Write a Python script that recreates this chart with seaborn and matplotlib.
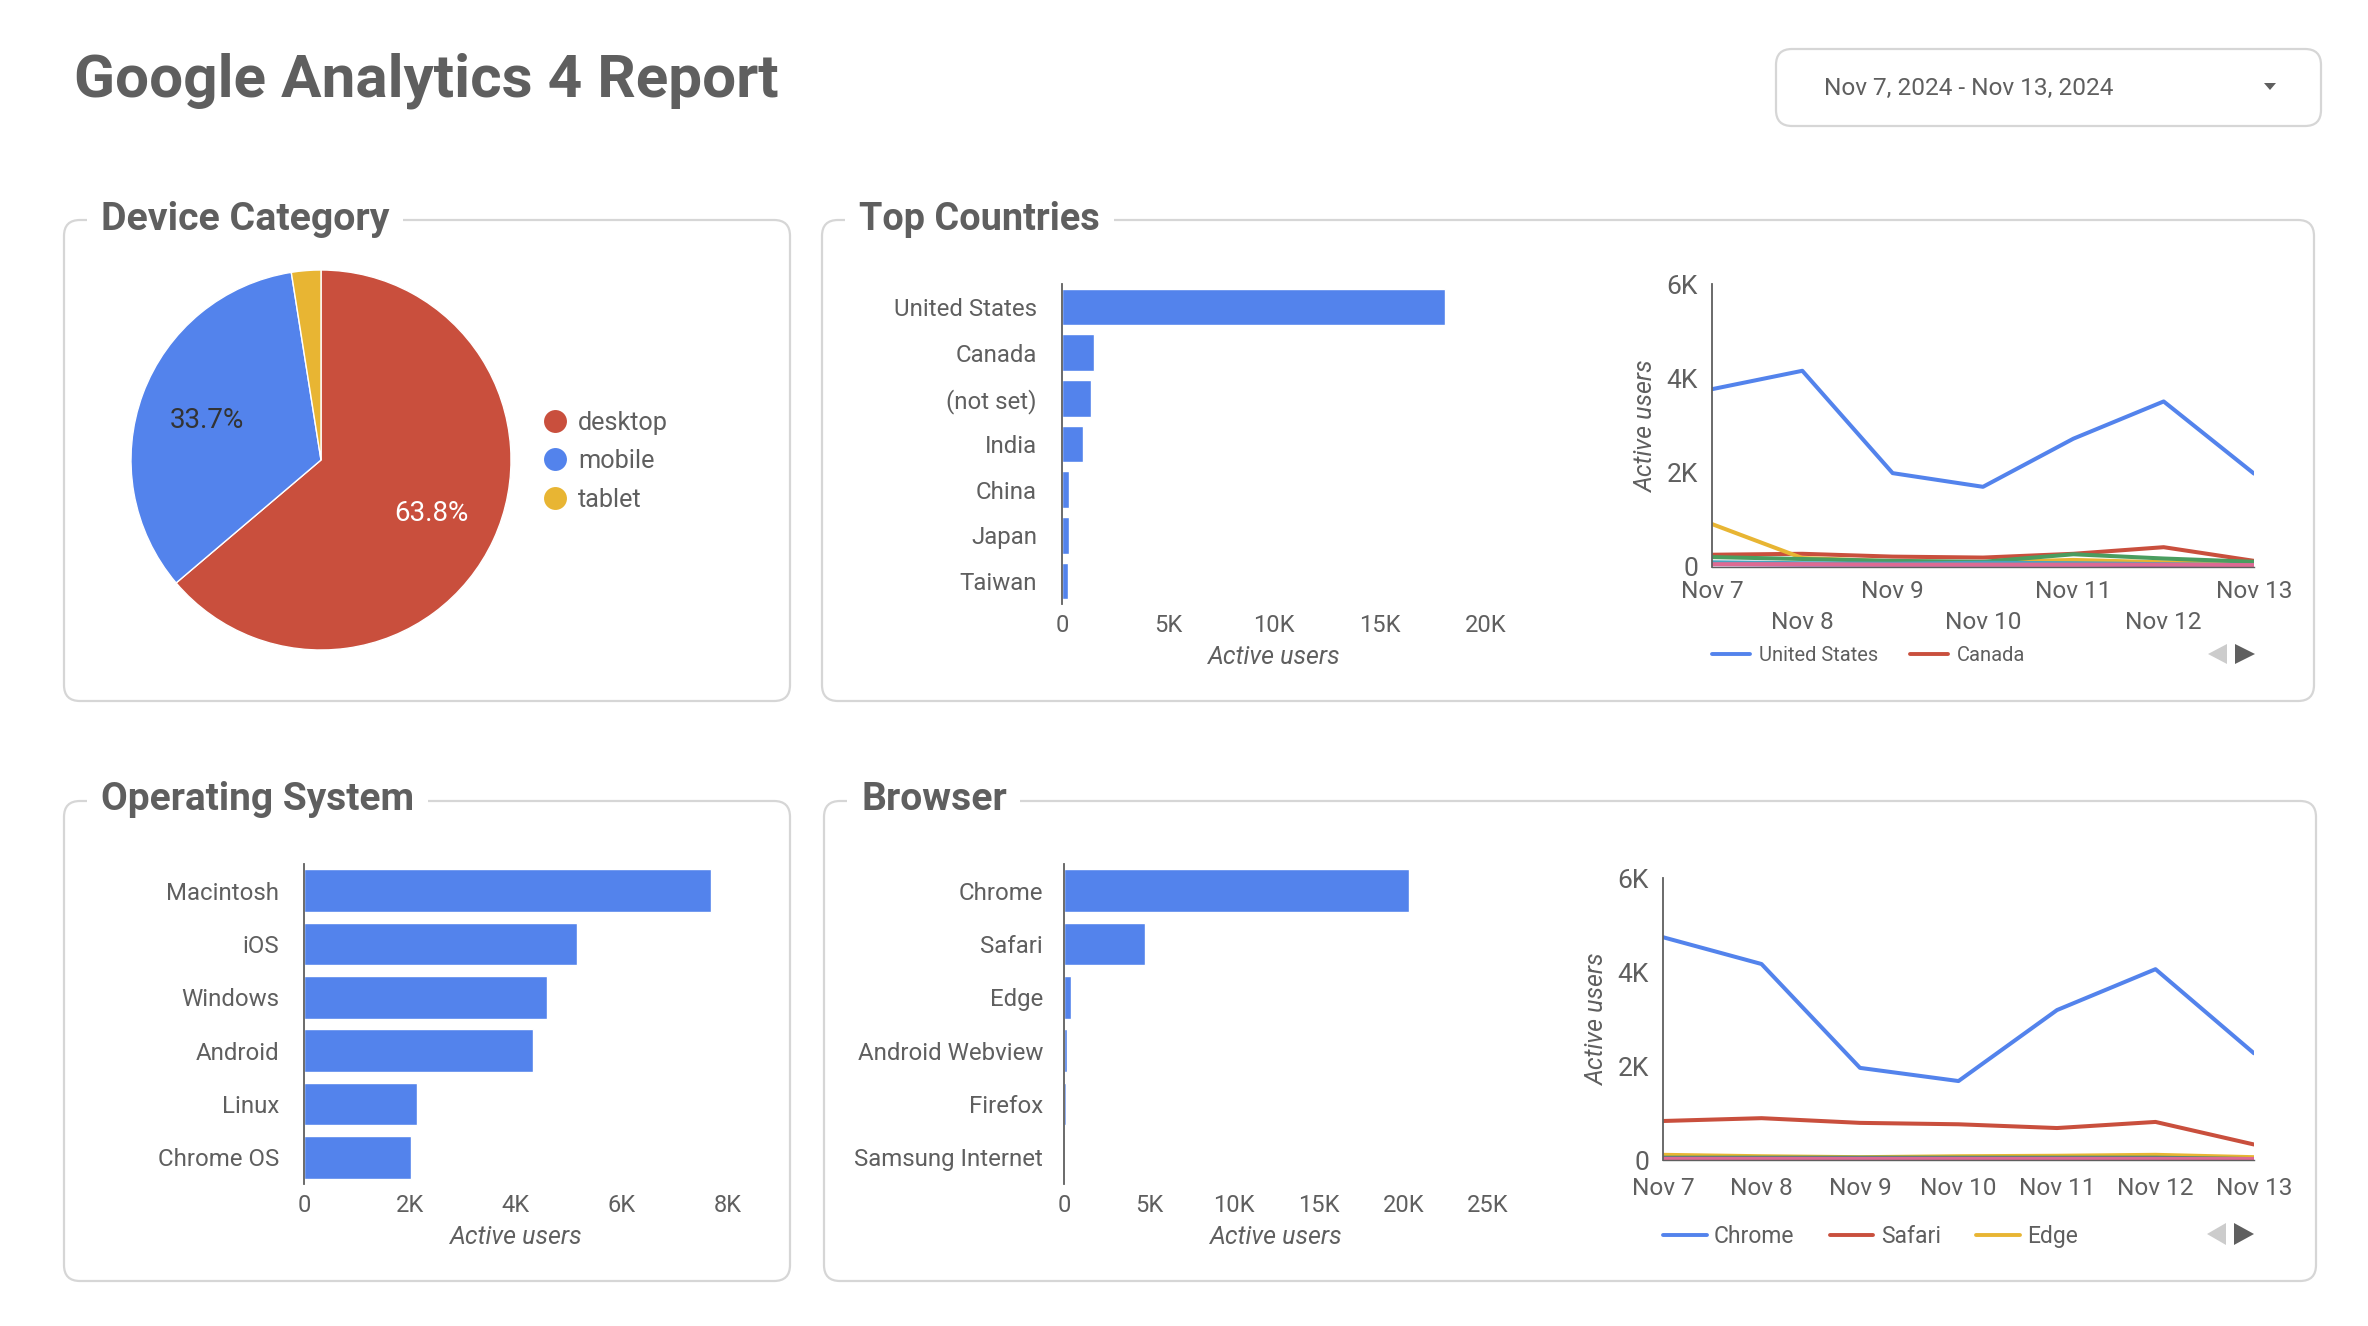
import matplotlib
matplotlib.use("Agg")
import matplotlib.pyplot as plt
from matplotlib.lines import Line2D
from matplotlib.patches import FancyBboxPatch, Polygon
import pandas as pd
import seaborn as sns

W, H = 2368, 1326

# === Data ===
device_labels = ["desktop", "mobile", "tablet"]
device_share = [63.8, 33.7, 2.5]

days = ["Nov 7", "Nov 8", "Nov 9", "Nov 10", "Nov 11", "Nov 12", "Nov 13"]

countries = ["United States", "Canada", "(not set)", "India", "China", "Japan", "Taiwan"]
country_users = [18080, 1500, 1350, 1000, 350, 330, 280]
country_daily = {
    "United States": [3770, 4160, 1990, 1700, 2720, 3510, 1980],
    "Canada": [260, 280, 220, 200, 280, 420, 130],
    "(not set)": [910, 190, 120, 100, 150, 100, 60],
    "India": [210, 170, 130, 110, 270, 180, 110],
    "China": [60, 50, 50, 50, 50, 40, 30],
    "Japan": [100, 80, 70, 90, 80, 60, 40],
    "Taiwan": [60, 60, 50, 50, 50, 50, 40],
}

systems = ["Macintosh", "iOS", "Windows", "Android", "Linux", "Chrome OS"]
system_users = [7680, 5150, 4580, 4320, 2130, 2020]

browsers = ["Chrome", "Safari", "Edge", "Android Webview", "Firefox", "Samsung Internet"]
browser_users = [20350, 4770, 400, 180, 120, 50]
browser_daily = {
    "Chrome": [4740, 4170, 1960, 1680, 3190, 4060, 2270],
    "Safari": [830, 890, 790, 760, 680, 810, 330],
    "Edge": [110, 80, 60, 80, 90, 110, 60],
    "Android Webview": [50, 50, 50, 50, 50, 50, 20],
    "Firefox": [30, 30, 30, 30, 30, 30, 20],
    "Samsung Internet": [20, 20, 20, 20, 20, 20, 20],
}

BLUE = "#5383ec"
RED = "#c94f3d"
YELLOW = "#e8b533"
GREEN = "#4a9d5f"
PURPLE = "#8e4db5"
TEAL = "#46a5c0"
PINK = "#dd6a93"
country_colors = [BLUE, RED, YELLOW, GREEN, PURPLE, TEAL, PINK]
browser_colors = [BLUE, RED, YELLOW, GREEN, PURPLE, PINK]
TEXT = "#5f5f5f"
BORDER = "#d6d6d6"

sns.set_theme(style="white")
plt.rcParams["font.family"] = ["Roboto", "DejaVu Sans"]
plt.rcParams["text.color"] = TEXT
plt.rcParams["axes.labelcolor"] = TEXT
plt.rcParams["xtick.color"] = TEXT
plt.rcParams["ytick.color"] = TEXT

fig = plt.figure(figsize=(W / 100, H / 100), dpi=100, facecolor="white")


def px_axes(x0, y0, x1, y1):
    # pixel box (top-left origin) to a figure axes
    return fig.add_axes([x0 / W, 1 - y1 / H, (x1 - x0) / W, (y1 - y0) / H], facecolor="none")


def k_label(v, pos=None):
    return "0" if v == 0 else f"{int(v / 1000)}K"


def bar_panel(x0, y0, x1, y1, cats, vals, xmax, step, y_pad=18):
    ax = px_axes(x0, y0, x1, y1)
    df = pd.DataFrame({"name": cats, "users": vals})
    sns.barplot(data=df, y="name", x="users", color=BLUE, saturation=1, width=0.8, ax=ax)
    ax.set_xlim(0, xmax)
    ax.set_ylim(len(cats) - 0.5, -0.5)
    ax.set_xticks(range(0, xmax + 1, step))
    ax.xaxis.set_major_formatter(k_label)
    ax.tick_params(axis="x", length=0, pad=7, labelsize=17)
    ax.tick_params(axis="y", length=0, pad=y_pad, labelsize=17.3)
    ax.set_ylabel("")
    ax.set_xlabel("Active users", style="italic", fontsize=18, labelpad=6)
    sns.despine(ax=ax, bottom=True)
    ax.spines["left"].set_color(TEXT)
    ax.spines["left"].set_linewidth(1.3)
    return ax


def line_panel(x0, y0, x1, y1, daily, colors, tick_labels, tick_pad, legend_names, legend_anchor, legend_size,
               text_pad, col_space):
    ax = px_axes(x0, y0, x1, y1)
    rows = [(name, d, v) for name, series in daily.items() for d, v in zip(days, series)]
    df = pd.DataFrame(rows, columns=["series", "day", "users"])
    sns.lineplot(data=df, x="day", y="users", hue="series", palette=colors,
                 sort=False, linewidth=2.9, legend=False, ax=ax)
    ax.set_xlim(0, 6)
    ax.set_ylim(0, 6000)
    ax.set_yticks([0, 2000, 4000, 6000])
    ax.yaxis.set_major_formatter(k_label)
    ax.set_xticks(range(7))
    ax.set_xticklabels(tick_labels)
    ax.tick_params(axis="x", length=0, pad=tick_pad, labelsize=17.6)
    ax.tick_params(axis="y", length=0, pad=10, labelsize=19)
    for lab in ax.get_xticklabels():
        lab.set_linespacing(1.45)
    ax.set_xlabel("")
    ax.set_ylabel("Active users", style="italic", fontsize=18, labelpad=6)
    sns.despine(ax=ax)
    ax.spines["left"].set_color(TEXT)
    ax.spines["left"].set_linewidth(1.3)
    ax.spines["bottom"].set_color(TEXT)
    ax.spines["bottom"].set_linewidth(1.0)
    handles = [Line2D([0], [0], color=colors[i], lw=2.8, label=n) for i, n in enumerate(legend_names)]
    ax.legend(handles=handles, loc="upper left", bbox_to_anchor=legend_anchor, frameon=False, ncol=len(handles),
              fontsize=legend_size, handlelength=1.9, handletextpad=text_pad, columnspacing=col_space,
              borderpad=0, borderaxespad=0, labelcolor=TEXT)
    return ax


# === Background: cards, headers, date control ===
bg = fig.add_axes([0, 0, 1, 1], zorder=-1)
bg.set_xlim(0, W)
bg.set_ylim(H, 0)
bg.axis("off")

cards = [
    (64, 220, 790, 701, "Device Category", 101, 28.3, 0),
    (822, 220, 2314, 701, "Top Countries", 859, 27.3, 0),
    (64, 801, 790, 1281, "Operating System", 101, 28, -2),
    (824, 801, 2316, 1281, "Browser", 861, 28.2, -2),
]
for x0, y0, x1, y1, title, tx, size, dy in cards:
    bg.add_patch(FancyBboxPatch((x0 + 16, y0 + 16), x1 - x0 - 32, y1 - y0 - 32,
                                boxstyle="round,pad=16,rounding_size=16",
                                fc="white", ec=BORDER, lw=1.6))
    bg.text(tx, y0 + dy, title, fontsize=size, fontweight="bold", va="center", ha="left", color=TEXT,
            bbox=dict(fc="white", ec="none", pad=10))

bg.text(74, 81, "Google Analytics 4 Report", fontsize=43.4, fontweight="bold", va="center", ha="left", color=TEXT)
bg.add_patch(FancyBboxPatch((1792, 65), 513, 45, boxstyle="round,pad=16,rounding_size=16",
                            fc="white", ec=BORDER, lw=1.6))
bg.text(1824, 88, "Nov 7, 2024 - Nov 13, 2024", fontsize=17.6, va="center", ha="left", color=TEXT)
bg.add_patch(Polygon([(2264, 83), (2276, 83), (2270, 90)], fc=TEXT, ec="none"))

# === Pie ===
pie_ax = px_axes(131, 270, 511, 650)
wedges, _, autotexts = pie_ax.pie(device_share, colors=[RED, BLUE, YELLOW], startangle=90, counterclock=False,
                                  radius=1.0, autopct=lambda p: f"{p:.1f}%" if p > 5 else "", pctdistance=0.64,
                                  textprops=dict(fontsize=20))
autotexts[0].set_color("white")
autotexts[1].set_color("#333333")
for t in autotexts:
    t.set_y(t.get_position()[1] - 0.012)
pie_ax.set_xlim(-1, 1)
pie_ax.set_ylim(-1, 1)
dots = [Line2D([0], [0], color="none", marker="o", markersize=16.5, markerfacecolor=c, markeredgecolor="none", label=n)
        for c, n in zip([RED, BLUE, YELLOW], device_labels)]
pie_ax.legend(handles=dots, loc="center left", bbox_to_anchor=(1.083, 0.497), frameon=False,
              fontsize=18.2, handlelength=1.0, handletextpad=0.4, labelspacing=0.57,
              borderpad=0, borderaxespad=0, labelcolor=TEXT)

# === Bars ===
bar_panel(1062, 284, 1486, 604, countries, country_users, 20000, 5000)
bar_panel(304, 864, 728, 1184, systems, system_users, 8000, 2000)
bar_panel(1064, 864, 1488, 1184, browsers, browser_users, 25000, 5000, y_pad=15)

# === Lines ===
top_ticks = [d if i % 2 == 0 else "\n" + d for i, d in enumerate(days)]
line_panel(1712, 284, 2254, 567, country_daily, country_colors, top_ticks, 9,
           ["United States", "Canada"], (0.0, -0.28), 14.5, 0.42, 1.6)
line_panel(1663, 878, 2254, 1160, browser_daily, browser_colors, days, 12.5,
           ["Chrome", "Safari", "Edge"], (0.0, -0.232), 16.5, 0.32, 1.55)

# === Legend pager arrows ===
for cx, cy, r in [(2231, 654, 10), (2230, 1234, 11)]:
    bg.add_patch(Polygon([(cx - 23, cy), (cx - 4, cy - r), (cx - 4, cy + r)], fc="#cccccc", ec="none"))
    bg.add_patch(Polygon([(cx + 24, cy), (cx + 4, cy - r), (cx + 4, cy + r)], fc=TEXT, ec="none"))

fig.savefig("out.png", dpi=100)
